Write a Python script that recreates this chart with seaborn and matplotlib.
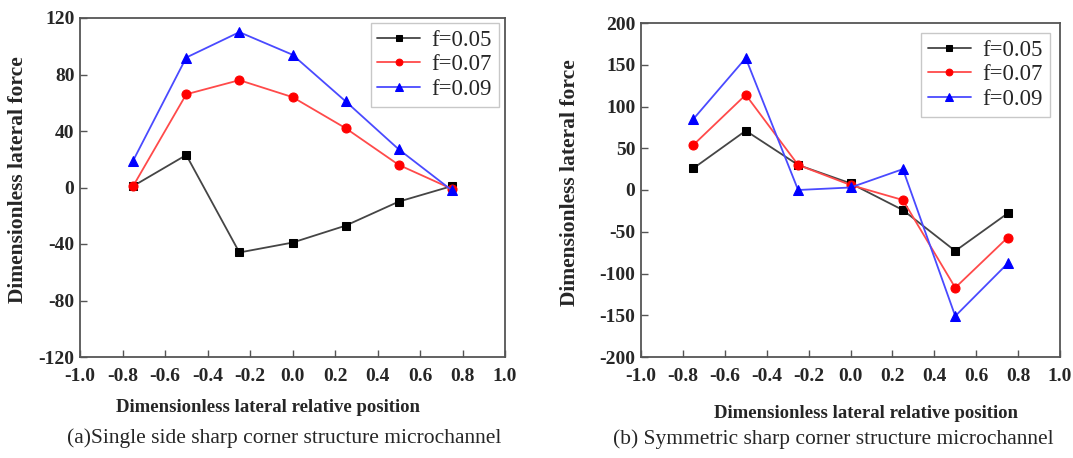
import numpy as np
import pandas as pd
import matplotlib
matplotlib.use("Agg")
import matplotlib.pyplot as plt
import seaborn as sns

# lateral positions across the channel
positions = [-0.75, -0.5, -0.25, 0.0, 0.25, 0.5, 0.75]
series_names = ["f=0.05", "f=0.07", "f=0.09"]

# (a) single side sharp corner
single_f005 = [1, 23, -46, -39, -27, -10, 1]
single_f007 = [1, 66, 76, 64, 42, 16, -1]
single_f009 = [19, 92, 110, 94, 61, 27, -2]

# (b) symmetric sharp corner
sym_f005 = [26, 71, 30, 8, -24, -73, -28]
sym_f007 = [54, 114, 30, 6, -12, -117, -57]
sym_f009 = [85, 158, 0, 3, 25, -151, -88]

x_ticks = [-1.0, -0.8, -0.6, -0.4, -0.2, 0.0, 0.2, 0.4, 0.6, 0.8, 1.0]
y_ticks_a = [-120, -80, -40, 0, 40, 80, 120]
y_ticks_b = [-200, -150, -100, -50, 0, 50, 100, 150, 200]

sns.set_theme(style="white")
plt.rcParams["font.family"] = ["Liberation Serif", "DejaVu Serif"]

line_colors = ["#454545", "#ff4a4a", "#4a4aff"]
marker_colors = ["#000000", "#ff0000", "#0000ff"]
markers = ["s", "o", "^"]
marker_sizes = [5.5, 6.5, 7.0]


def long_frame(values):
    rows = []
    for name, vals in zip(series_names, values):
        for x, y in zip(positions, vals):
            rows.append({"pos": x, "force": y, "series": name})
    return pd.DataFrame(rows)


fig = plt.figure(figsize=(10.73, 4.58), dpi=100)
W, H = 1073, 458
ax_a = fig.add_axes([80 / W, 1 - 357 / H, (505 - 80) / W, (357 - 18) / H])
ax_b = fig.add_axes([641 / W, 1 - 357 / H, (1060 - 641) / W, (357 - 23) / H])


def draw(ax, values, yticks, ylim, legend_anchor):
    df = long_frame(values)
    handles = []
    for i, name in enumerate(series_names):
        sub = df[df["series"] == name]
        sns.lineplot(data=sub, x="pos", y="force", ax=ax, color=line_colors[i],
                     linewidth=1.3, marker=markers[i], markersize=marker_sizes[i],
                     markerfacecolor=marker_colors[i], markeredgecolor=marker_colors[i],
                     label=name, legend=False)
        handles.append(ax.lines[-1])
    ax.set_xlim(-1.0, 1.0)
    ax.set_ylim(*ylim)
    ax.set_xticks(x_ticks)
    ax.set_xticklabels([f"{t:.1f}" for t in x_ticks])
    ax.set_yticks(yticks)
    ax.set_yticklabels([str(t) for t in yticks])
    ax.set_xlabel("")
    ax.set_ylabel("")
    for lab in ax.get_xticklabels():
        lab.set_fontweight("bold")
        lab.set_fontsize(14)
    for lab in ax.get_yticklabels():
        lab.set_fontweight("bold")
        lab.set_fontsize(14)
    ax.tick_params(axis="x", direction="in", length=5, width=1, color="#555555",
                   bottom=True, top=False, pad=8)
    ax.tick_params(axis="y", direction="in", length=5, width=1, color="#555555",
                   left=True, right=False, pad=4)
    for sp in ax.spines.values():
        sp.set_color("#555555")
        sp.set_linewidth(1.3)
    leg = ax.legend(handles=handles, labels=series_names, loc="upper right",
                    bbox_to_anchor=legend_anchor, frameon=True, fancybox=False,
                    fontsize=16.5, handlelength=1.85, handletextpad=0.5,
                    labelspacing=0.15, borderpad=0.3, borderaxespad=0.0,
                    markerscale=0.75)
    leg.get_frame().set_edgecolor("#bbbbbb")
    leg.get_frame().set_linewidth(1.0)


draw(ax_a, [single_f005, single_f007, single_f009], y_ticks_a, (-120, 120), (0.985, 0.985))
draw(ax_b, [sym_f005, sym_f007, sym_f009], y_ticks_b, (-200, 200), (0.975, 0.97))

# axis titles and captions
fig.text(18 / W, 1 - 180 / H, "Dimensionless lateral force", rotation=90,
         ha="center", va="center", fontsize=15.5, fontweight="bold")
fig.text(570 / W, 1 - 183 / H, "Dimensionless lateral force", rotation=90,
         ha="center", va="center", fontsize=15.5, fontweight="bold")
fig.text(268 / W, 1 - 407 / H, "Dimensionless lateral relative position",
         ha="center", va="center", fontsize=13.5, fontweight="bold")
fig.text(866 / W, 1 - 413 / H, "Dimensionless lateral relative position",
         ha="center", va="center", fontsize=13.5, fontweight="bold")
fig.text(284 / W, 1 - 438 / H, "(a)Single side sharp corner structure microchannel",
         ha="center", va="center", fontsize=15.5)
fig.text(833 / W, 1 - 439 / H, "(b) Symmetric sharp corner structure microchannel",
         ha="center", va="center", fontsize=15.5)

fig.savefig("out.png", dpi=100)
